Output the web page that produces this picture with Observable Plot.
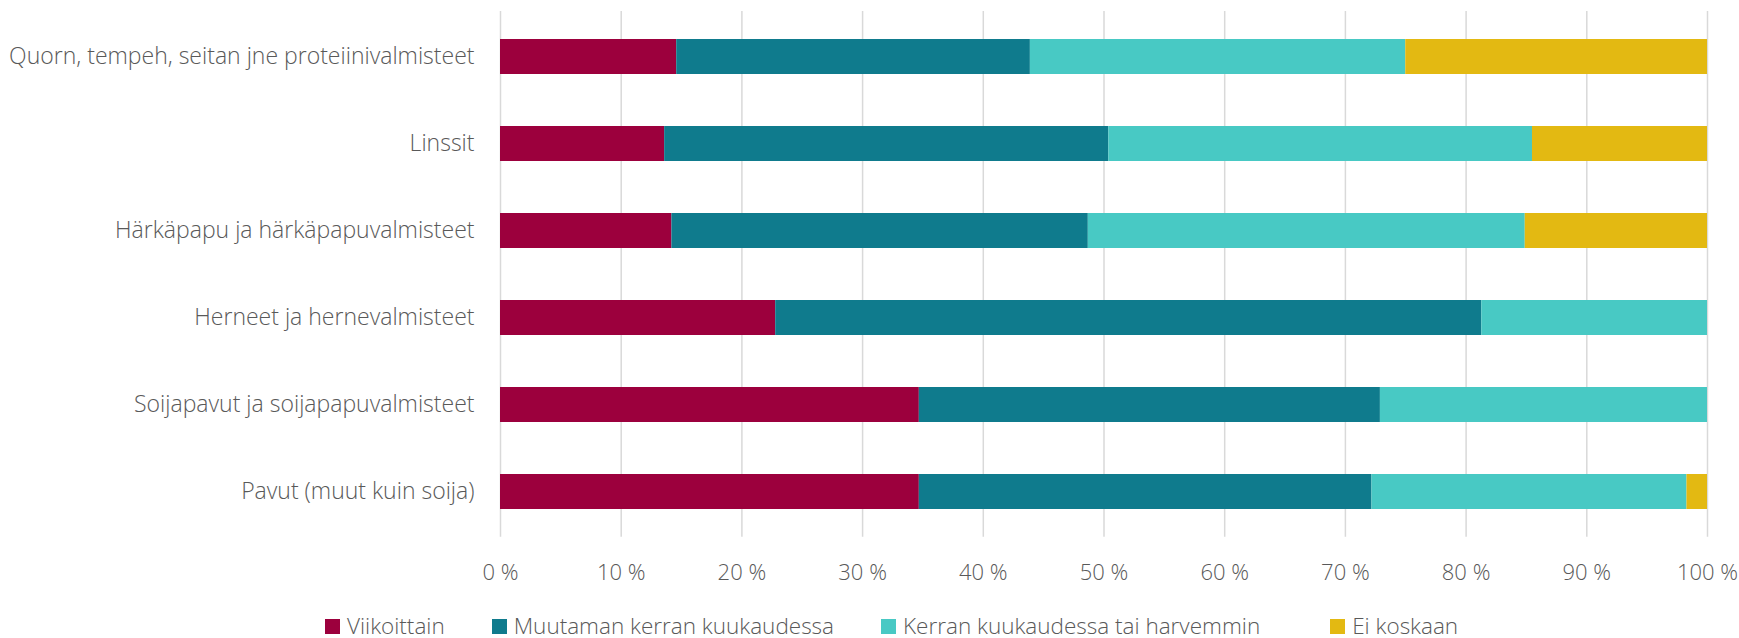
<!DOCTYPE html>
<html>
<head>
<meta charset="utf-8">
<script src="https://cdn.jsdelivr.net/npm/d3@7"></script>
<script src="https://cdn.jsdelivr.net/npm/@observablehq/plot@0.6"></script>
<style>
  html, body { margin: 0; padding: 0; background: #fff; }
  #wrap { position: relative; width: 1739px; height: 638px; font-family: "Open Sans", sans-serif; color: #595959; }
  #legend { position: absolute; left: 325px; top: 615px; display: flex; align-items: center; font-size: 22.5px; font-weight: 300; line-height: 22px; white-space: nowrap; }
  .item { display: flex; align-items: center; margin-right: 47px; }
  .item:nth-child(3) { margin-right: 70px; }
  .sw { width: 15px; height: 15px; margin-right: 7px; }
</style>
</head>
<body>
<div id="wrap"><div id="chart"></div><div id="legend"></div></div>
<script>
const categories = [
  "Quorn, tempeh, seitan jne proteiinivalmisteet",
  "Linssit",
  "Härkäpapu ja härkäpapuvalmisteet",
  "Herneet ja hernevalmisteet",
  "Soijapavut ja soijapapuvalmisteet",
  "Pavut (muut kuin soija)"
];
const seriesNames = ["Viikoittain", "Muutaman kerran kuukaudessa", "Kerran kuukaudessa tai harvemmin", "Ei koskaan"];
const colors = ["#9C003D", "#0F7B8D", "#48C9C4", "#E3B912"];
const viikoittain = [14.6, 13.6, 14.2, 22.8, 34.7, 34.7];
const muutaman    = [29.3, 36.8, 34.5, 58.5, 38.2, 37.5];
const kerran      = [31.1, 35.1, 36.2, 18.7, 27.1, 26.1];
const eiKoskaan   = [25.0, 14.5, 15.1, 0, 0, 1.7];
const xTicks = [0, 10, 20, 30, 40, 50, 60, 70, 80, 90, 100];

const seriesValues = [viikoittain, muutaman, kerran, eiKoskaan];
const data = [];
categories.forEach((c, i) => {
  seriesNames.forEach((s, j) => {
    data.push({category: c, series: s, value: seriesValues[j][i]});
  });
});

const chart = Plot.plot({
  width: 1739,
  height: 600,
  marginLeft: 500,
  marginRight: 32,
  marginTop: 11,
  marginBottom: 63.3,
  style: {fontFamily: "'Open Sans', sans-serif", color: "#595959", background: "#fff", fontWeight: 300},
  x: {domain: [0, 100]},
  y: {domain: categories, paddingInner: 0.6, paddingOuter: 0.3},
  color: {domain: seriesNames, range: colors},
  marks: [
    Plot.gridX(xTicks, {stroke: "#d9d9d9", strokeOpacity: 1, strokeWidth: 1.5}),
    Plot.barX(data, Plot.stackX({x: "value", y: "category", fill: "series", order: seriesNames})),
    Plot.axisY({tickSize: 0, tickPadding: 26, fontSize: 23, label: null}),
    Plot.axisX(xTicks, {tickSize: 0, tickPadding: 27, fontSize: 22, label: null, tickFormat: d => d + " %"})
  ]
});
document.getElementById("chart").appendChild(chart);

const legend = document.getElementById("legend");
seriesNames.forEach((s, j) => {
  const it = document.createElement("div");
  it.className = "item";
  const sw = document.createElement("div");
  sw.className = "sw";
  sw.style.background = colors[j];
  const t = document.createElement("span");
  t.textContent = s;
  it.appendChild(sw); it.appendChild(t);
  legend.appendChild(it);
});
</script>
</body>
</html>
